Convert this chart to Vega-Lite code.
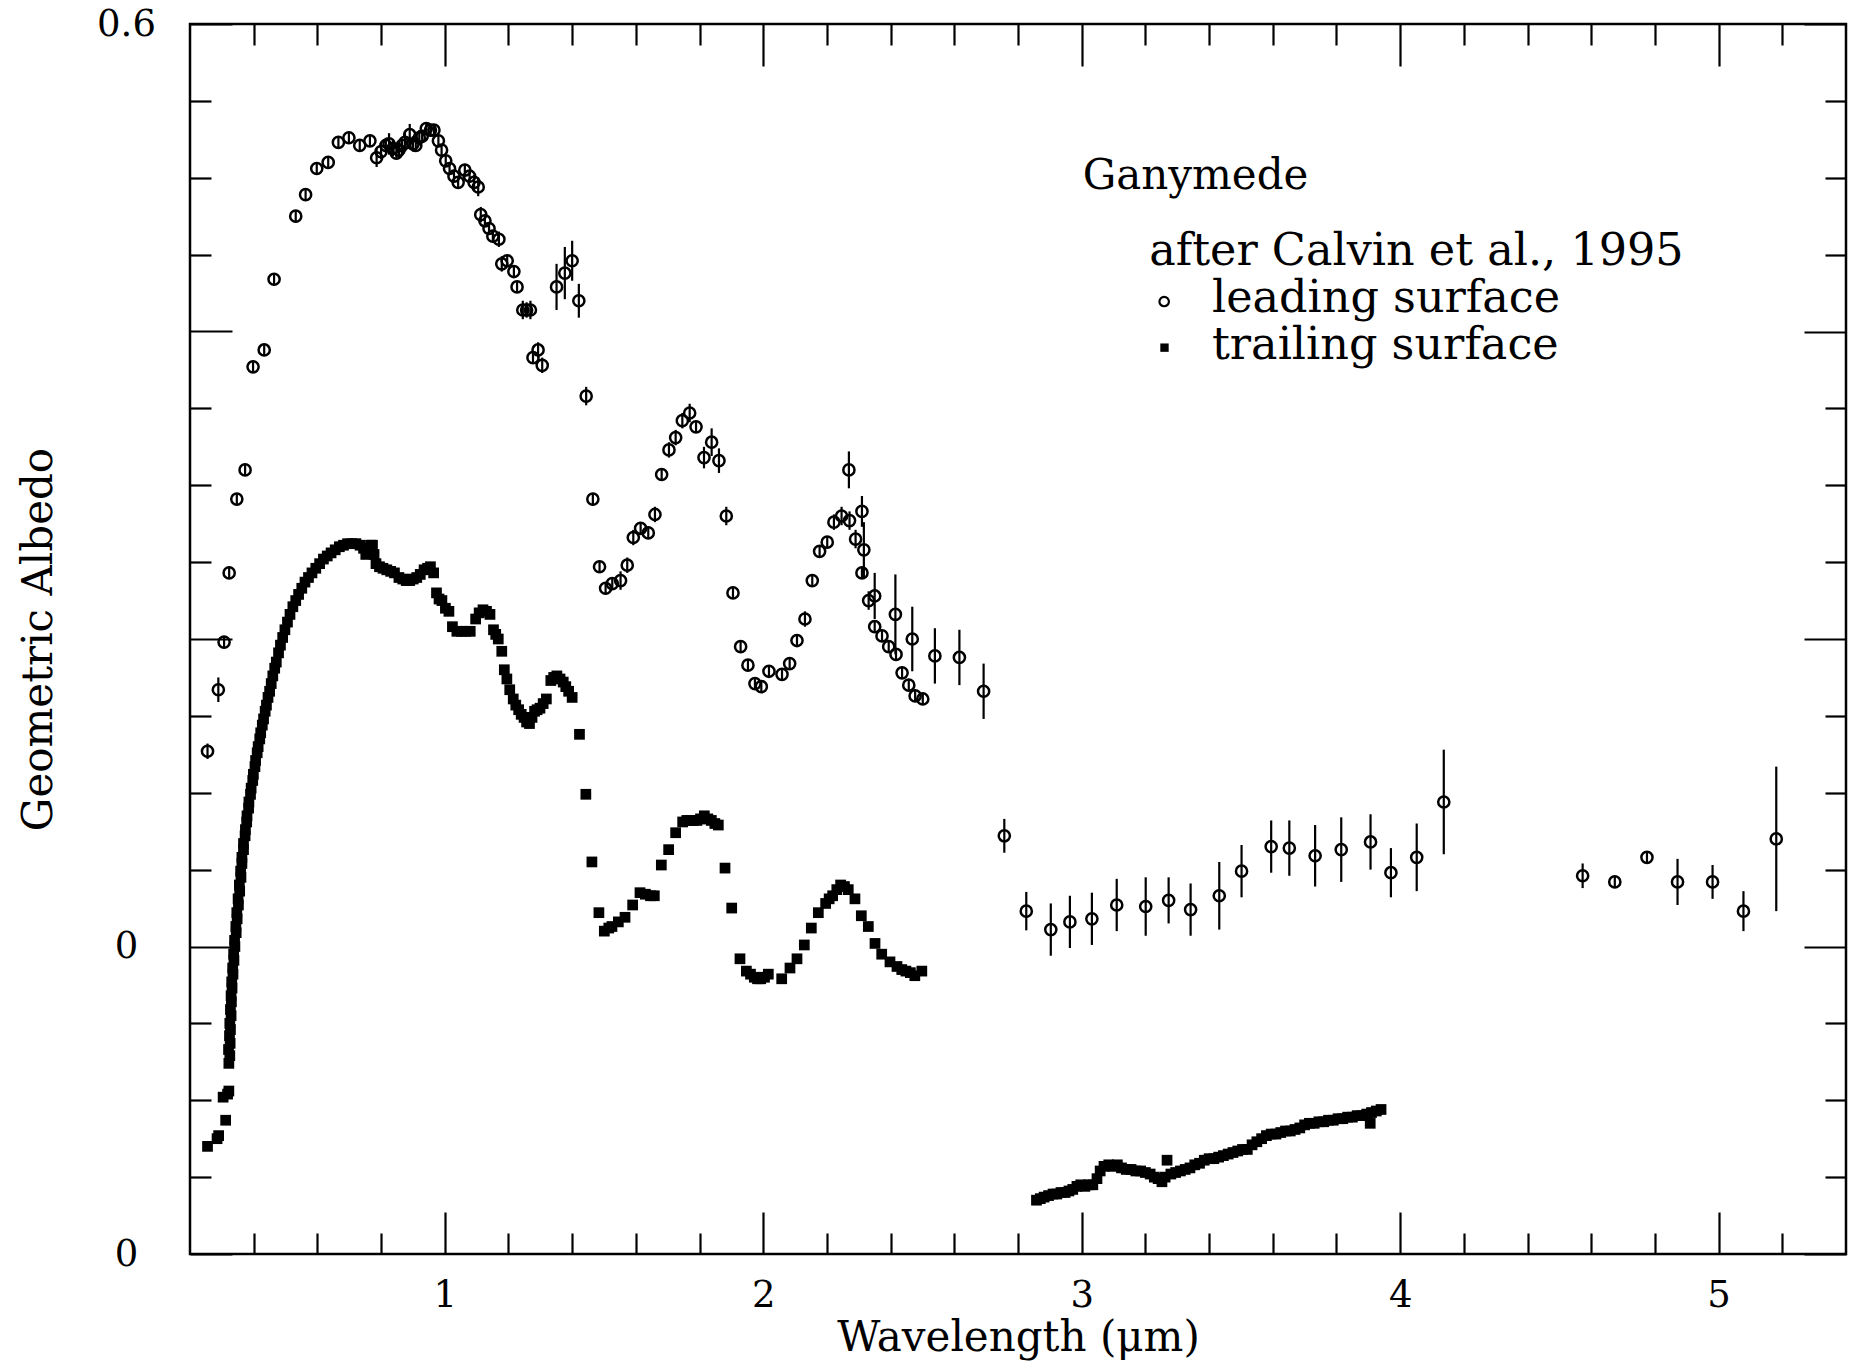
{
"$schema": "https://vega.github.io/schema/vega-lite/v6.json",
"width": 1656, "height": 1230,
"autosize": {"type": "none"},
"padding": {"left": 190, "top": 24, "right": 18, "bottom": 109},
"background": "white",
"config": {
  "view": {"stroke": "black", "strokeWidth": 2.5},
  "font": "DejaVu Serif",
  "axis": {"grid": false, "domain": false, "tickColor": "black", "tickWidth": 2.2, "labelColor": "black", "titleColor": "black", "labelFont": "DejaVu Serif", "titleFont": "DejaVu Serif", "labelFontWeight": "normal", "titleFontWeight": "normal", "labelOverlap": false, "labelBound": false, "labelFlush": false}
},
"datasets": {
  "leading": [
    {"wl":0.255,"alb":0.127,"lo":0.122,"hi":0.132},
    {"wl":0.289,"alb":0.167,"lo":0.159,"hi":0.175},
    {"wl":0.307,"alb":0.198,"lo":0.194,"hi":0.202},
    {"wl":0.323,"alb":0.243,"lo":0.239,"hi":0.247},
    {"wl":0.347,"alb":0.291,"lo":0.287,"hi":0.295},
    {"wl":0.373,"alb":0.310,"lo":0.306,"hi":0.314},
    {"wl":0.398,"alb":0.377,"lo":0.373,"hi":0.381},
    {"wl":0.433,"alb":0.388,"lo":0.384,"hi":0.392},
    {"wl":0.464,"alb":0.434,"lo":0.430,"hi":0.438},
    {"wl":0.532,"alb":0.475,"lo":0.471,"hi":0.479},
    {"wl":0.563,"alb":0.489,"lo":0.485,"hi":0.493},
    {"wl":0.598,"alb":0.506,"lo":0.502,"hi":0.510},
    {"wl":0.634,"alb":0.510,"lo":0.506,"hi":0.514},
    {"wl":0.666,"alb":0.523,"lo":0.519,"hi":0.527},
    {"wl":0.699,"alb":0.526,"lo":0.522,"hi":0.530},
    {"wl":0.733,"alb":0.521,"lo":0.517,"hi":0.525},
    {"wl":0.765,"alb":0.524,"lo":0.520,"hi":0.528},
    {"wl":0.786,"alb":0.513,"lo":0.507,"hi":0.519},
    {"wl":0.800,"alb":0.517,"lo":0.512,"hi":0.522},
    {"wl":0.815,"alb":0.521,"lo":0.516,"hi":0.526},
    {"wl":0.825,"alb":0.522,"lo":0.515,"hi":0.529},
    {"wl":0.837,"alb":0.519,"lo":0.514,"hi":0.524},
    {"wl":0.848,"alb":0.516,"lo":0.512,"hi":0.520},
    {"wl":0.856,"alb":0.518,"lo":0.513,"hi":0.523},
    {"wl":0.866,"alb":0.521,"lo":0.517,"hi":0.525},
    {"wl":0.875,"alb":0.523,"lo":0.517,"hi":0.529},
    {"wl":0.890,"alb":0.528,"lo":0.521,"hi":0.535},
    {"wl":0.900,"alb":0.522,"lo":0.517,"hi":0.527},
    {"wl":0.909,"alb":0.521,"lo":0.517,"hi":0.525},
    {"wl":0.920,"alb":0.526,"lo":0.521,"hi":0.531},
    {"wl":0.929,"alb":0.527,"lo":0.523,"hi":0.531},
    {"wl":0.942,"alb":0.532,"lo":0.528,"hi":0.536},
    {"wl":0.955,"alb":0.531,"lo":0.527,"hi":0.535},
    {"wl":0.966,"alb":0.531,"lo":0.527,"hi":0.535},
    {"wl":0.980,"alb":0.524,"lo":0.520,"hi":0.528},
    {"wl":0.990,"alb":0.518,"lo":0.514,"hi":0.522},
    {"wl":1.003,"alb":0.511,"lo":0.507,"hi":0.515},
    {"wl":1.015,"alb":0.506,"lo":0.502,"hi":0.510},
    {"wl":1.029,"alb":0.501,"lo":0.497,"hi":0.505},
    {"wl":1.042,"alb":0.497,"lo":0.493,"hi":0.501},
    {"wl":1.063,"alb":0.505,"lo":0.501,"hi":0.509},
    {"wl":1.078,"alb":0.501,"lo":0.497,"hi":0.505},
    {"wl":1.092,"alb":0.497,"lo":0.492,"hi":0.502},
    {"wl":1.105,"alb":0.494,"lo":0.488,"hi":0.500},
    {"wl":1.113,"alb":0.476,"lo":0.471,"hi":0.481},
    {"wl":1.126,"alb":0.472,"lo":0.468,"hi":0.476},
    {"wl":1.139,"alb":0.467,"lo":0.463,"hi":0.471},
    {"wl":1.151,"alb":0.462,"lo":0.458,"hi":0.466},
    {"wl":1.170,"alb":0.460,"lo":0.455,"hi":0.465},
    {"wl":1.179,"alb":0.444,"lo":0.439,"hi":0.449},
    {"wl":1.196,"alb":0.446,"lo":0.442,"hi":0.450},
    {"wl":1.217,"alb":0.439,"lo":0.435,"hi":0.443},
    {"wl":1.227,"alb":0.429,"lo":0.425,"hi":0.433},
    {"wl":1.245,"alb":0.414,"lo":0.408,"hi":0.420},
    {"wl":1.257,"alb":0.414,"lo":0.409,"hi":0.419},
    {"wl":1.269,"alb":0.414,"lo":0.408,"hi":0.420},
    {"wl":1.277,"alb":0.383,"lo":0.379,"hi":0.387},
    {"wl":1.293,"alb":0.388,"lo":0.383,"hi":0.393},
    {"wl":1.306,"alb":0.378,"lo":0.373,"hi":0.383},
    {"wl":1.351,"alb":0.429,"lo":0.414,"hi":0.444},
    {"wl":1.377,"alb":0.438,"lo":0.421,"hi":0.455},
    {"wl":1.400,"alb":0.446,"lo":0.433,"hi":0.459},
    {"wl":1.421,"alb":0.420,"lo":0.409,"hi":0.431},
    {"wl":1.444,"alb":0.358,"lo":0.352,"hi":0.364},
    {"wl":1.465,"alb":0.291,"lo":0.287,"hi":0.295},
    {"wl":1.486,"alb":0.247,"lo":0.243,"hi":0.251},
    {"wl":1.505,"alb":0.233,"lo":0.229,"hi":0.237},
    {"wl":1.526,"alb":0.236,"lo":0.232,"hi":0.240},
    {"wl":1.552,"alb":0.238,"lo":0.232,"hi":0.244},
    {"wl":1.573,"alb":0.248,"lo":0.243,"hi":0.253},
    {"wl":1.592,"alb":0.266,"lo":0.261,"hi":0.271},
    {"wl":1.615,"alb":0.272,"lo":0.268,"hi":0.276},
    {"wl":1.639,"alb":0.269,"lo":0.265,"hi":0.273},
    {"wl":1.660,"alb":0.281,"lo":0.276,"hi":0.286},
    {"wl":1.681,"alb":0.307,"lo":0.303,"hi":0.311},
    {"wl":1.704,"alb":0.323,"lo":0.318,"hi":0.328},
    {"wl":1.725,"alb":0.331,"lo":0.326,"hi":0.336},
    {"wl":1.746,"alb":0.342,"lo":0.337,"hi":0.347},
    {"wl":1.769,"alb":0.347,"lo":0.341,"hi":0.353},
    {"wl":1.789,"alb":0.338,"lo":0.334,"hi":0.342},
    {"wl":1.814,"alb":0.318,"lo":0.311,"hi":0.325},
    {"wl":1.838,"alb":0.328,"lo":0.319,"hi":0.337},
    {"wl":1.861,"alb":0.316,"lo":0.308,"hi":0.324},
    {"wl":1.884,"alb":0.280,"lo":0.274,"hi":0.286},
    {"wl":1.905,"alb":0.230,"lo":0.226,"hi":0.234},
    {"wl":1.929,"alb":0.195,"lo":0.191,"hi":0.199},
    {"wl":1.952,"alb":0.183,"lo":0.179,"hi":0.187},
    {"wl":1.974,"alb":0.171,"lo":0.167,"hi":0.175},
    {"wl":1.994,"alb":0.169,"lo":0.165,"hi":0.173},
    {"wl":2.018,"alb":0.179,"lo":0.175,"hi":0.183},
    {"wl":2.059,"alb":0.177,"lo":0.173,"hi":0.181},
    {"wl":2.083,"alb":0.184,"lo":0.180,"hi":0.188},
    {"wl":2.106,"alb":0.199,"lo":0.195,"hi":0.203},
    {"wl":2.131,"alb":0.213,"lo":0.208,"hi":0.218},
    {"wl":2.154,"alb":0.238,"lo":0.234,"hi":0.242},
    {"wl":2.177,"alb":0.257,"lo":0.253,"hi":0.261},
    {"wl":2.201,"alb":0.263,"lo":0.259,"hi":0.267},
    {"wl":2.222,"alb":0.276,"lo":0.271,"hi":0.281},
    {"wl":2.246,"alb":0.280,"lo":0.274,"hi":0.286},
    {"wl":2.269,"alb":0.310,"lo":0.298,"hi":0.322},
    {"wl":2.271,"alb":0.277,"lo":0.271,"hi":0.283},
    {"wl":2.290,"alb":0.265,"lo":0.259,"hi":0.271},
    {"wl":2.310,"alb":0.283,"lo":0.273,"hi":0.293},
    {"wl":2.316,"alb":0.258,"lo":0.240,"hi":0.276},
    {"wl":2.310,"alb":0.243,"lo":0.239,"hi":0.247},
    {"wl":2.331,"alb":0.225,"lo":0.219,"hi":0.231},
    {"wl":2.350,"alb":0.228,"lo":0.213,"hi":0.243},
    {"wl":2.350,"alb":0.208,"lo":0.204,"hi":0.212},
    {"wl":2.373,"alb":0.202,"lo":0.198,"hi":0.206},
    {"wl":2.394,"alb":0.195,"lo":0.191,"hi":0.199},
    {"wl":2.415,"alb":0.216,"lo":0.190,"hi":0.242},
    {"wl":2.417,"alb":0.190,"lo":0.186,"hi":0.194},
    {"wl":2.436,"alb":0.178,"lo":0.174,"hi":0.182},
    {"wl":2.457,"alb":0.170,"lo":0.166,"hi":0.174},
    {"wl":2.468,"alb":0.200,"lo":0.179,"hi":0.221},
    {"wl":2.477,"alb":0.163,"lo":0.159,"hi":0.167},
    {"wl":2.501,"alb":0.161,"lo":0.157,"hi":0.165},
    {"wl":2.539,"alb":0.189,"lo":0.171,"hi":0.207},
    {"wl":2.616,"alb":0.188,"lo":0.170,"hi":0.206},
    {"wl":2.692,"alb":0.166,"lo":0.148,"hi":0.184},
    {"wl":2.757,"alb":0.072,"lo":0.061,"hi":0.083},
    {"wl":2.826,"alb":0.023,"lo":0.0105,"hi":0.0355},
    {"wl":2.903,"alb":0.011,"lo":-0.006,"hi":0.028},
    {"wl":2.963,"alb":0.016,"lo":-0.001,"hi":0.033},
    {"wl":3.032,"alb":0.018,"lo":0.001,"hi":0.035},
    {"wl":3.110,"alb":0.027,"lo":0.010,"hi":0.044},
    {"wl":3.201,"alb":0.026,"lo":0.007,"hi":0.045},
    {"wl":3.273,"alb":0.030,"lo":0.015,"hi":0.045},
    {"wl":3.342,"alb":0.024,"lo":0.007,"hi":0.041},
    {"wl":3.432,"alb":0.033,"lo":0.011,"hi":0.055},
    {"wl":3.502,"alb":0.049,"lo":0.032,"hi":0.066},
    {"wl":3.595,"alb":0.065,"lo":0.048,"hi":0.082},
    {"wl":3.652,"alb":0.064,"lo":0.046,"hi":0.082},
    {"wl":3.733,"alb":0.059,"lo":0.039,"hi":0.079},
    {"wl":3.815,"alb":0.063,"lo":0.042,"hi":0.084},
    {"wl":3.907,"alb":0.068,"lo":0.050,"hi":0.086},
    {"wl":3.971,"alb":0.048,"lo":0.032,"hi":0.064},
    {"wl":4.052,"alb":0.058,"lo":0.036,"hi":0.080},
    {"wl":4.137,"alb":0.094,"lo":0.060,"hi":0.128},
    {"wl":4.573,"alb":0.046,"lo":0.038,"hi":0.054},
    {"wl":4.674,"alb":0.042,"lo":0.038,"hi":0.046},
    {"wl":4.775,"alb":0.058,"lo":0.054,"hi":0.062},
    {"wl":4.871,"alb":0.042,"lo":0.027,"hi":0.057},
    {"wl":4.981,"alb":0.042,"lo":0.031,"hi":0.053},
    {"wl":5.078,"alb":0.023,"lo":0.010,"hi":0.036},
    {"wl":5.181,"alb":0.070,"lo":0.023,"hi":0.117}
  ],
  "trailing": [
    {"wl":0.255,"alb":0.070},{"wl":0.285,"alb":0.075},{"wl":0.290,"alb":0.077},{"wl":0.312,"alb":0.087},
    {"wl":0.304,"alb":0.102},{"wl":0.318,"alb":0.104},{"wl":0.322,"alb":0.106},
    {"wl":0.322,"alb":0.124},{"wl":0.325,"alb":0.129},{"wl":0.321,"alb":0.133},{"wl":0.326,"alb":0.137},
    {"wl":0.324,"alb":0.142},{"wl":0.327,"alb":0.146},{"wl":0.325,"alb":0.150},{"wl":0.329,"alb":0.155},
    {"wl":0.327,"alb":0.159},{"wl":0.330,"alb":0.164},{"wl":0.329,"alb":0.168},{"wl":0.332,"alb":0.173},
    {"wl":0.331,"alb":0.177},{"wl":0.335,"alb":0.182},{"wl":0.334,"alb":0.186},{"wl":0.338,"alb":0.191},
    {"wl":0.337,"alb":0.195},{"wl":0.341,"alb":0.200},{"wl":0.340,"alb":0.204},{"wl":0.345,"alb":0.209},
    {"wl":0.344,"alb":0.213},{"wl":0.348,"alb":0.218},{"wl":0.347,"alb":0.222},{"wl":0.352,"alb":0.227},
    {"wl":0.351,"alb":0.231},{"wl":0.356,"alb":0.236},{"wl":0.355,"alb":0.240},{"wl":0.360,"alb":0.245},
    {"wl":0.359,"alb":0.249},{"wl":0.363,"alb":0.254},{"wl":0.363,"alb":0.258},{"wl":0.368,"alb":0.263},
    {"wl":0.368,"alb":0.267},{"wl":0.373,"alb":0.272},{"wl":0.374,"alb":0.276},{"wl":0.378,"alb":0.281},
    {"wl":0.379,"alb":0.285},{"wl":0.384,"alb":0.290},{"wl":0.385,"alb":0.294},{"wl":0.390,"alb":0.299},
    {"wl":0.392,"alb":0.303},{"wl":0.397,"alb":0.308},{"wl":0.399,"alb":0.312},{"wl":0.404,"alb":0.317},
    {"wl":0.406,"alb":0.321},{"wl":0.411,"alb":0.326},{"wl":0.414,"alb":0.330},{"wl":0.419,"alb":0.335},
    {"wl":0.422,"alb":0.339},{"wl":0.427,"alb":0.344},{"wl":0.431,"alb":0.348},{"wl":0.436,"alb":0.353},
    {"wl":0.440,"alb":0.357},{"wl":0.445,"alb":0.362},{"wl":0.450,"alb":0.366},{"wl":0.455,"alb":0.371},
    {"wl":0.460,"alb":0.376},{"wl":0.466,"alb":0.381},{"wl":0.471,"alb":0.385},{"wl":0.478,"alb":0.391},
    {"wl":0.484,"alb":0.396},{"wl":0.491,"alb":0.401},{"wl":0.498,"alb":0.406},{"wl":0.506,"alb":0.411},
    {"wl":0.514,"alb":0.416},{"wl":0.523,"alb":0.421},{"wl":0.532,"alb":0.425},{"wl":0.541,"alb":0.429},
    {"wl":0.551,"alb":0.433},{"wl":0.561,"alb":0.437},{"wl":0.572,"alb":0.440},{"wl":0.583,"alb":0.443},
    {"wl":0.595,"alb":0.446},{"wl":0.607,"alb":0.449},{"wl":0.619,"alb":0.452},{"wl":0.631,"alb":0.454},
    {"wl":0.643,"alb":0.456},{"wl":0.656,"alb":0.458},{"wl":0.669,"alb":0.460},{"wl":0.682,"alb":0.461},
    {"wl":0.695,"alb":0.462},{"wl":0.708,"alb":0.462},{"wl":0.721,"alb":0.462},{"wl":0.734,"alb":0.461},
    {"wl":0.745,"alb":0.459},{"wl":0.752,"alb":0.455},{"wl":0.760,"alb":0.458},{"wl":0.767,"alb":0.461},
    {"wl":0.773,"alb":0.461},{"wl":0.778,"alb":0.455},{"wl":0.784,"alb":0.449},{"wl":0.795,"alb":0.447},
    {"wl":0.806,"alb":0.446},{"wl":0.818,"alb":0.445},{"wl":0.830,"alb":0.444},{"wl":0.842,"alb":0.443},
    {"wl":0.856,"alb":0.440},{"wl":0.868,"alb":0.439},{"wl":0.879,"alb":0.438},{"wl":0.890,"alb":0.438},
    {"wl":0.901,"alb":0.439},{"wl":0.912,"alb":0.440},{"wl":0.923,"alb":0.442},{"wl":0.935,"alb":0.445},
    {"wl":0.946,"alb":0.446},{"wl":0.955,"alb":0.447},{"wl":0.965,"alb":0.443},{"wl":0.974,"alb":0.430},
    {"wl":0.982,"alb":0.426},{"wl":0.991,"alb":0.425},{"wl":1.002,"alb":0.420},{"wl":1.013,"alb":0.418},
    {"wl":1.024,"alb":0.408},{"wl":1.038,"alb":0.405},{"wl":1.052,"alb":0.405},{"wl":1.066,"alb":0.405},
    {"wl":1.080,"alb":0.405},{"wl":1.097,"alb":0.413},{"wl":1.108,"alb":0.417},{"wl":1.120,"alb":0.419},
    {"wl":1.131,"alb":0.418},{"wl":1.142,"alb":0.416},{"wl":1.153,"alb":0.406},{"wl":1.160,"alb":0.403},
    {"wl":1.168,"alb":0.400},{"wl":1.179,"alb":0.392},{"wl":1.187,"alb":0.380},{"wl":1.195,"alb":0.374},
    {"wl":1.204,"alb":0.367},{"wl":1.215,"alb":0.361},{"wl":1.223,"alb":0.357},{"wl":1.232,"alb":0.354},
    {"wl":1.240,"alb":0.351},{"wl":1.249,"alb":0.349},{"wl":1.257,"alb":0.346},{"wl":1.266,"alb":0.345},
    {"wl":1.274,"alb":0.349},{"wl":1.282,"alb":0.353},{"wl":1.290,"alb":0.354},{"wl":1.299,"alb":0.355},
    {"wl":1.309,"alb":0.358},{"wl":1.319,"alb":0.361},{"wl":1.333,"alb":0.373},{"wl":1.342,"alb":0.375},
    {"wl":1.352,"alb":0.376},{"wl":1.362,"alb":0.374},{"wl":1.372,"alb":0.372},{"wl":1.380,"alb":0.369},
    {"wl":1.389,"alb":0.366},{"wl":1.400,"alb":0.362},{"wl":1.423,"alb":0.338},{"wl":1.443,"alb":0.299},
    {"wl":1.462,"alb":0.255},{"wl":1.484,"alb":0.222},{"wl":1.501,"alb":0.210},{"wl":1.515,"alb":0.212},
    {"wl":1.525,"alb":0.213},{"wl":1.545,"alb":0.216},{"wl":1.566,"alb":0.219},{"wl":1.590,"alb":0.227},
    {"wl":1.613,"alb":0.235},{"wl":1.630,"alb":0.234},{"wl":1.646,"alb":0.233},{"wl":1.658,"alb":0.233},
    {"wl":1.680,"alb":0.253},{"wl":1.703,"alb":0.263},{"wl":1.725,"alb":0.274},{"wl":1.747,"alb":0.281},
    {"wl":1.760,"alb":0.282},{"wl":1.770,"alb":0.282},{"wl":1.781,"alb":0.282},{"wl":1.792,"alb":0.282},
    {"wl":1.803,"alb":0.283},{"wl":1.815,"alb":0.285},{"wl":1.826,"alb":0.283},{"wl":1.837,"alb":0.282},
    {"wl":1.848,"alb":0.280},{"wl":1.859,"alb":0.279},{"wl":1.880,"alb":0.251},{"wl":1.901,"alb":0.225},
    {"wl":1.927,"alb":0.192},{"wl":1.947,"alb":0.184},{"wl":1.960,"alb":0.182},{"wl":1.972,"alb":0.180},
    {"wl":1.982,"alb":0.179},{"wl":1.992,"alb":0.179},{"wl":2.004,"alb":0.180},{"wl":2.016,"alb":0.182},
    {"wl":2.058,"alb":0.179},{"wl":2.084,"alb":0.186},{"wl":2.106,"alb":0.192},{"wl":2.129,"alb":0.201},
    {"wl":2.151,"alb":0.212},{"wl":2.173,"alb":0.222},{"wl":2.196,"alb":0.228},{"wl":2.207,"alb":0.231},
    {"wl":2.218,"alb":0.233},{"wl":2.231,"alb":0.237},{"wl":2.243,"alb":0.240},{"wl":2.255,"alb":0.239},
    {"wl":2.267,"alb":0.237},{"wl":2.288,"alb":0.231},{"wl":2.308,"alb":0.220},{"wl":2.330,"alb":0.213},
    {"wl":2.351,"alb":0.202},{"wl":2.372,"alb":0.195},{"wl":2.398,"alb":0.190},{"wl":2.420,"alb":0.187},
    {"wl":2.435,"alb":0.185},{"wl":2.448,"alb":0.184},{"wl":2.462,"alb":0.183},{"wl":2.476,"alb":0.181},
    {"wl":2.498,"alb":0.184},
    {"wl":2.858,"alb":0.035},{"wl":2.870,"alb":0.036},{"wl":2.882,"alb":0.037},{"wl":2.896,"alb":0.038},
    {"wl":2.910,"alb":0.039},{"wl":2.922,"alb":0.039},{"wl":2.935,"alb":0.040},{"wl":2.948,"alb":0.040},
    {"wl":2.960,"alb":0.041},{"wl":2.972,"alb":0.042},{"wl":2.985,"alb":0.044},{"wl":2.997,"alb":0.045},
    {"wl":3.010,"alb":0.044},{"wl":3.022,"alb":0.045},{"wl":3.035,"alb":0.045},{"wl":3.048,"alb":0.049},
    {"wl":3.058,"alb":0.054},{"wl":3.070,"alb":0.057},{"wl":3.085,"alb":0.058},{"wl":3.098,"alb":0.057},
    {"wl":3.112,"alb":0.058},{"wl":3.125,"alb":0.056},{"wl":3.140,"alb":0.055},{"wl":3.155,"alb":0.055},
    {"wl":3.170,"alb":0.054},{"wl":3.185,"alb":0.054},{"wl":3.200,"alb":0.053},{"wl":3.215,"alb":0.052},
    {"wl":3.228,"alb":0.050},{"wl":3.240,"alb":0.049},{"wl":3.252,"alb":0.047},{"wl":3.262,"alb":0.050},
    {"wl":3.268,"alb":0.061},{"wl":3.280,"alb":0.052},{"wl":3.295,"alb":0.053},{"wl":3.310,"alb":0.054},
    {"wl":3.325,"alb":0.055},{"wl":3.340,"alb":0.056},{"wl":3.355,"alb":0.058},{"wl":3.370,"alb":0.059},
    {"wl":3.385,"alb":0.061},{"wl":3.400,"alb":0.062},{"wl":3.415,"alb":0.062},{"wl":3.430,"alb":0.063},
    {"wl":3.445,"alb":0.064},{"wl":3.460,"alb":0.065},{"wl":3.475,"alb":0.066},{"wl":3.490,"alb":0.067},
    {"wl":3.505,"alb":0.068},{"wl":3.520,"alb":0.068},{"wl":3.535,"alb":0.071},{"wl":3.550,"alb":0.073},
    {"wl":3.565,"alb":0.075},{"wl":3.580,"alb":0.077},{"wl":3.595,"alb":0.078},{"wl":3.610,"alb":0.078},
    {"wl":3.625,"alb":0.079},{"wl":3.640,"alb":0.080},{"wl":3.655,"alb":0.080},{"wl":3.670,"alb":0.081},
    {"wl":3.685,"alb":0.082},{"wl":3.700,"alb":0.084},{"wl":3.715,"alb":0.085},{"wl":3.730,"alb":0.085},
    {"wl":3.745,"alb":0.086},{"wl":3.760,"alb":0.086},{"wl":3.775,"alb":0.087},{"wl":3.790,"alb":0.087},
    {"wl":3.805,"alb":0.088},{"wl":3.820,"alb":0.088},{"wl":3.835,"alb":0.089},{"wl":3.850,"alb":0.089},
    {"wl":3.865,"alb":0.090},{"wl":3.880,"alb":0.090},{"wl":3.895,"alb":0.091},{"wl":3.906,"alb":0.085},
    {"wl":3.910,"alb":0.092},{"wl":3.925,"alb":0.093},{"wl":3.940,"alb":0.094}
  ],
  "legendText": [
    {"label":"Ganymede","x":3.003,"y":0.493,"size":42},
    {"label":"after Calvin et al., 1995","x":3.212,"y":0.443,"size":44.5},
    {"label":"leading surface","x":3.409,"y":0.413,"size":44.5},
    {"label":"trailing surface","x":3.409,"y":0.382,"size":44.5}
  ],
  "legendCircle": [{"x":3.259,"y":0.4195}],
  "legendSquare": [{"x":3.26,"y":0.3895}]
},
"layer": [
  {
    "data": {"name": "leading"},
    "mark": {"type": "rule", "color": "black", "strokeWidth": 2.2},
    "encoding": {
      "x": {"field": "wl", "type": "quantitative",
        "scale": {"domain": [0.2, 5.4], "nice": false, "zero": false},
        "axis": {"orient": "bottom", "values": [1, 2, 3, 4, 5], "tickSize": -42, "labelPadding": 65, "labelBaseline": "top", "labelFontSize": 37, "format": "d",
          "title": "Wavelength (μm)", "titleFontSize": 42, "titleY": 96, "titleBaseline": "alphabetic"}},
      "y": {"field": "lo", "type": "quantitative",
        "scale": {"domain": [-0.2, 0.6], "nice": false, "zero": false},
        "axis": {"orient": "left", "values": [-0.2, 0, 0.2, 0.4, 0.6], "tickSize": -42, "labelPadding": 106, "labelAlign": "center", "labelBaseline": "middle", "labelFontSize": 37,
          "labelExpr": "datum.value > 0.59 ? '0.6' : ((abs(datum.value) < 0.001 || abs(datum.value + 0.2) < 0.001) ? '0' : '')",
          "title": "Geometric Albedo", "titleFontSize": 42, "titleAngle": 270, "titleX": -139, "titleY": 615, "titleBaseline": "alphabetic", "titleAlign": "center"}},
      "y2": {"field": "hi"}
    }
  },
  {
    "data": {"name": "leading"},
    "mark": {"type": "point", "shape": "circle", "filled": false, "stroke": "black", "strokeWidth": 2.5, "size": 125, "opacity": 1},
    "encoding": {
      "x": {"field": "wl", "type": "quantitative",
        "scale": {"domain": [0.2, 5.4], "nice": false, "zero": false},
        "axis": {"orient": "bottom", "values": [0.4,0.6,0.8,1.2,1.4,1.6,1.8,2.2,2.4,2.6,2.8,3.2,3.4,3.6,3.8,4.2,4.4,4.6,4.8,5.2], "tickSize": -21, "labels": false, "title": null}},
      "y": {"field": "alb", "type": "quantitative",
        "scale": {"domain": [-0.2, 0.6], "nice": false, "zero": false},
        "axis": {"orient": "left", "values": [-0.15,-0.1,-0.05,0.05,0.1,0.15,0.25,0.3,0.35,0.45,0.5,0.55], "tickSize": -21, "labels": false, "title": null}}
    }
  },
  {
    "data": {"name": "trailing"},
    "mark": {"type": "square", "color": "black", "size": 115, "opacity": 1},
    "encoding": {
      "x": {"field": "wl", "type": "quantitative",
        "scale": {"domain": [0.2, 5.4], "nice": false, "zero": false},
        "axis": {"orient": "top", "values": [1, 2, 3, 4, 5], "tickSize": -42, "labels": false, "title": null}},
      "y": {"field": "alb", "type": "quantitative",
        "scale": {"domain": [0, 0.8], "nice": false, "zero": false},
        "axis": {"orient": "right", "values": [0, 0.2, 0.4, 0.6, 0.8], "tickSize": -42, "labels": false, "title": null}}
    }
  },
  {
    "data": {"name": "legendText"},
    "mark": {"type": "text", "align": "left", "baseline": "alphabetic", "font": "DejaVu Serif", "color": "black"},
    "encoding": {
      "x": {"field": "x", "type": "quantitative",
        "scale": {"domain": [0.2, 5.4], "nice": false, "zero": false},
        "axis": {"orient": "top", "values": [0.4,0.6,0.8,1.2,1.4,1.6,1.8,2.2,2.4,2.6,2.8,3.2,3.4,3.6,3.8,4.2,4.4,4.6,4.8,5.2], "tickSize": -21, "labels": false, "title": null}},
      "y": {"field": "y", "type": "quantitative",
        "scale": {"domain": [-0.2, 0.6], "nice": false, "zero": false},
        "axis": {"orient": "right", "values": [-0.15,-0.1,-0.05,0.05,0.1,0.15,0.25,0.3,0.35,0.45,0.5,0.55], "tickSize": -21, "labels": false, "title": null}},
      "text": {"field": "label", "type": "nominal"},
      "size": {"field": "size", "type": "quantitative", "scale": null, "legend": null}
    }
  },
  {
    "data": {"name": "legendCircle"},
    "mark": {"type": "point", "shape": "circle", "filled": false, "stroke": "black", "strokeWidth": 2.2, "size": 90, "opacity": 1},
    "encoding": {
      "x": {"field": "x", "type": "quantitative", "scale": {"domain": [0.2, 5.4], "nice": false, "zero": false}, "axis": null},
      "y": {"field": "y", "type": "quantitative", "scale": {"domain": [-0.2, 0.6], "nice": false, "zero": false}, "axis": null}
    }
  },
  {
    "data": {"name": "legendSquare"},
    "mark": {"type": "square", "color": "black", "size": 70, "opacity": 1},
    "encoding": {
      "x": {"field": "x", "type": "quantitative", "scale": {"domain": [0.2, 5.4], "nice": false, "zero": false}, "axis": null},
      "y": {"field": "y", "type": "quantitative", "scale": {"domain": [-0.2, 0.6], "nice": false, "zero": false}, "axis": null}
    }
  }
],
"resolve": {"scale": {"x": "independent", "y": "independent"}, "axis": {"x": "independent", "y": "independent"}}
}
